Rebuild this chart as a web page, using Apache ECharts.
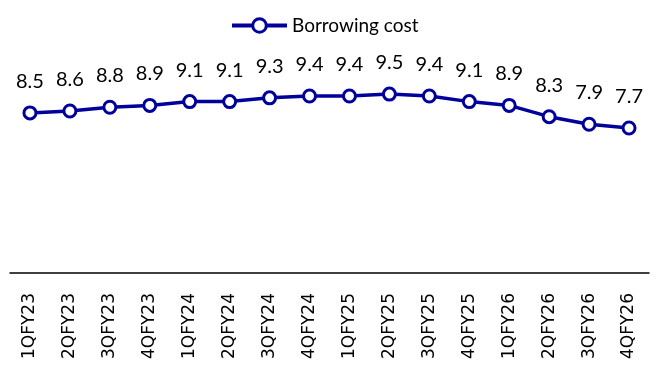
<!DOCTYPE html>
<html><head><meta charset="utf-8">
<script src="https://cdn.jsdelivr.net/npm/echarts@6/dist/echarts.min.js"></script>
<style>html,body{margin:0;padding:0;background:#fff}#c{width:662px;height:365px}</style>
</head><body><div id="c"></div>
<script>
const categories = ['1QFY23','2QFY23','3QFY23','4QFY23','1QFY24','2QFY24','3QFY24','4QFY24','1QFY25','2QFY25','3QFY25','4QFY25','1QFY26','2QFY26','3QFY26','4QFY26'];
const borrowingCost = [8.5,8.6,8.8,8.9,9.1,9.1,9.3,9.4,9.4,9.5,9.4,9.1,8.9,8.3,7.9,7.7];
const seriesName = 'Borrowing cost';
const navy = '#00009A';
const chart = echarts.init(document.getElementById('c'));
chart.setOption({
  animation: false,
  legend: {
    top: 11, left: 225,
    itemWidth: 55, itemHeight: 17, itemGap: 10,
    textStyle: {fontFamily: 'Lato', fontSize: 19, color: '#000'},
    lineStyle: {width: 4, color: navy},
    itemStyle: {color: '#fff', borderColor: navy, borderWidth: 3},
    data: [seriesName]
  },
  grid: {left: 10, right: 13, top: 47, bottom: 92},
  xAxis: {
    type: 'category', data: categories, boundaryGap: true,
    axisLine: {lineStyle: {color: '#000', width: 1.5}},
    axisTick: {show: false},
    axisLabel: {rotate: 90, margin: 20, fontFamily: 'DejaVu Sans', fontSize: 17, color: '#000', interval: 0}
  },
  yAxis: {type: 'value', min: 0, max: 12, show: false, splitLine: {show: false}},
  series: [{
    name: seriesName, type: 'line', data: borrowingCost,
    symbol: 'circle', symbolSize: 12,
    lineStyle: {color: navy, width: 3.5},
    itemStyle: {color: '#fff', borderColor: navy, borderWidth: 3},
    label: {show: true, position: 'top', distance: 14, fontFamily: 'Lato', fontSize: 20, color: '#000',
      formatter: p => p.value.toFixed(1)}
  }]
});
</script></body></html>
